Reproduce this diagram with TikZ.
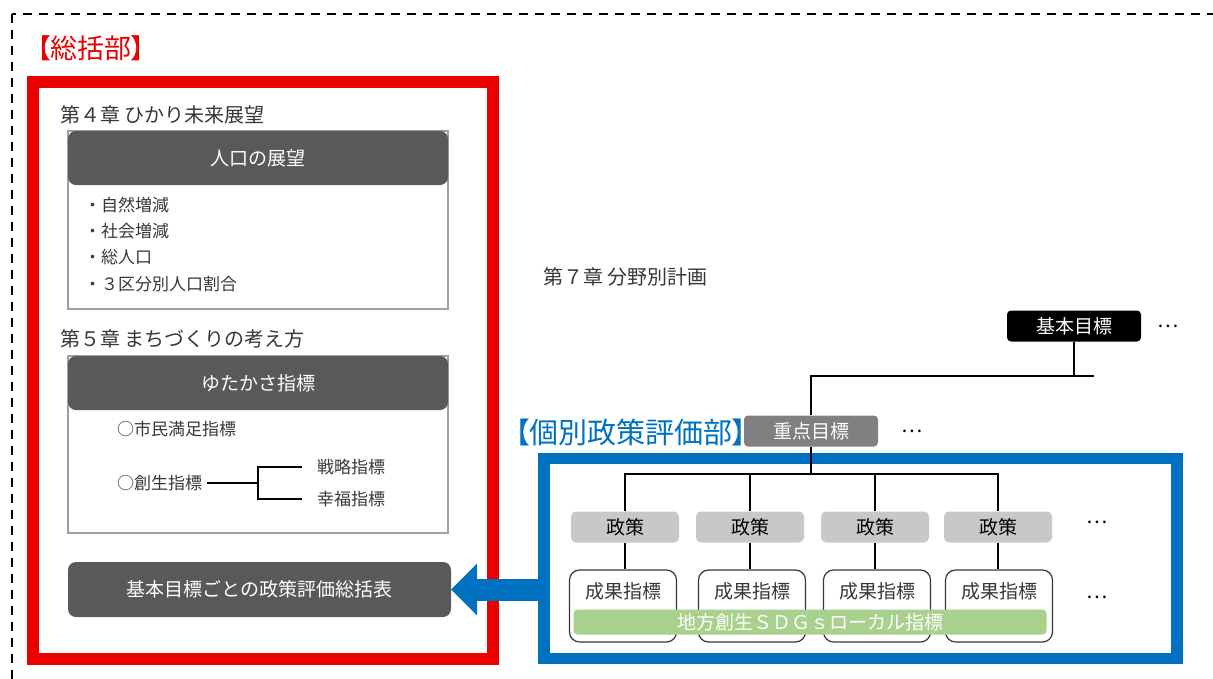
\documentclass[tikz,border=0pt]{standalone}
\usepackage{fontspec}
\setmainfont{Noto Sans CJK JP}
\newfontfamily\jpprop[RawFeature=+palt]{Noto Sans CJK JP}
\definecolor{sumred}{RGB}{235, 0, 0}
\definecolor{evalblue}{RGB}{0, 112, 192}
\definecolor{boxdark}{RGB}{89, 89, 89}
\definecolor{boxmid}{RGB}{128, 128, 128}
\definecolor{boxlight}{RGB}{200, 200, 200}
\definecolor{sdggreen}{RGB}{169, 209, 142}
\definecolor{textgray}{RGB}{55, 55, 55}
\usetikzlibrary{positioning, arrows.meta}

\begin{document}
\begin{tikzpicture}[x=1pt, y=-1pt,
  heading/.style={anchor=west, inner sep=0pt, font=\fontsize{20}{22}\selectfont, text=textgray},
  headbox/.style={fill=boxdark, rounded corners=8pt, text=white, inner sep=0pt, outer sep=0pt, font=\fontsize{19}{21}\selectfont},
  panel/.style={draw=gray!75, line width=2pt, inner sep=0pt, outer sep=0pt},
  item/.style={anchor=west, inner sep=0pt, font=\fontsize{17}{19}\selectfont, text=textgray},
  policy/.style={fill=boxlight, rounded corners=5pt, minimum width=108pt, minimum height=31pt, inner sep=0pt, font=\fontsize{19}{21}\selectfont},
  outcome/.style={draw=textgray, line width=1.2pt, rounded corners=10pt, minimum width=107pt, minimum height=72pt, inner sep=0pt},
  outtext/.style={inner sep=0pt, font=\fontsize{19}{21}\selectfont, text=textgray},
  more/.style={inner sep=0pt, font=\fontsize{20}{22}\selectfont},
  link/.style={line width=2.5pt},
  bracket/.style={line width=2pt}]

  \useasboundingbox (0,0) rectangle (1213,678);
  \clip (0,0) rectangle (1213,678);

  % Outer frame
  \draw[line width=2pt, dash pattern=on 9pt off 7pt] (12,14) rectangle (1240,700);

  % Summary part
  \node[text=sumred, font=\jpprop\fontsize{27}{30}\selectfont] (sumtitle) at (91,48) {【総括部】};
  \node[draw=sumred, line width=12pt, inner sep=0pt, outer sep=0pt, minimum width=460.5pt, minimum height=576.5pt, anchor=north west] (sumframe) at (32.5,82) {};

  % Chapter 4
  \node[heading] (ch4) at (60,115) {第４章 ひかり未来展望};
  \node[panel, anchor=north west, minimum width=380pt, minimum height=178pt] (popbody) at (68,131) {};
  \node[headbox, anchor=north west, minimum width=380pt, minimum height=54pt] (pophead) at (68,131) {人口の展望};
  \node[item] (pop1) at (84,205) {・自然増減};
  \node[item] (pop2) at (84,231) {・社会増減};
  \node[item] (pop3) at (84,257) {・総人口};
  \node[item] (pop4) at (84,284) {・３区分別人口割合};

  % Chapter 5
  \node[heading] (ch5) at (60,339) {第５章 まちづくりの考え方};
  \node[panel, anchor=north west, minimum width=380pt, minimum height=177pt] (richbody) at (68,356) {};
  \node[headbox, anchor=north west, minimum width=380pt, minimum height=54pt] (richhead) at (68,356) {ゆたかさ指標};
  \node[item] (citizen) at (117,429) {○市民満足指標};
  \node[item] (create) at (117,483) {○創生指標};
  \node[item] (strat) at (317,467) {戦略指標};
  \node[item] (happy) at (317,499) {幸福指標};
  \coordinate (fork) at (258,483);
  \draw[bracket] ([xshift=5pt]create.east) -- (fork);
  \draw[bracket] ([xshift=-15pt]strat.west) -| (fork) |- ([xshift=-15pt]happy.west);

  % Summary table
  \node[headbox, minimum width=383pt, minimum height=55pt] (summary) at (259.5,589.5) {基本目標ごとの政策評価総括表};

  % Chapter 7
  \node[heading] (ch7) at (543,277) {第７章 分野別計画};
  \node[fill=black, rounded corners=4pt, minimum width=134pt, minimum height=31pt, inner sep=0pt, text=white, font=\fontsize{19}{21}\selectfont] (goal) at (1074,326) {基本目標};
  \node[more, right=16pt of goal] (goaldots) {…};
  \node[fill=boxmid, rounded corners=4pt, minimum width=134pt, minimum height=31pt, inner sep=0pt, text=white, font=\fontsize{19}{21}\selectfont] (focus) at (811,431) {重点目標};
  \node[more, right=23pt of focus] (focusdots) {…};
  \coordinate (goaljoin) at (1094,376);
  \draw[link] (goal.south) -- (goal.south |- goaljoin);
  \draw[link] (goaljoin) -| (focus.north);

  % Individual policy evaluation part
  \node[text=evalblue, font=\jpprop\fontsize{29}{32}\selectfont] (evaltitle) at (631,432) {【個別政策評価部】};
  \node[draw=evalblue, line width=11.5pt, inner sep=0pt, outer sep=0pt, minimum width=633pt, minimum height=200pt, anchor=north west] (evalframe) at (544,458.5) {};

  \node[policy] (pol1) at (625,527) {政策};
  \node[policy] (pol2) at (750,527) {政策};
  \node[policy] (pol3) at (875,527) {政策};
  \node[policy] (pol4) at (998,527) {政策};
  \node[more] (poldots) at (1097,522) {…};

  \coordinate (focusjoin) at (811,474);
  \draw[link] (focus.south) -- (focusjoin);
  \draw[link] (pol1.north) -- (pol1.north |- focusjoin) -- (pol4.north |- focusjoin) -- (pol4.north);
  \draw[link] (pol2.north) -- (pol2.north |- focusjoin);
  \draw[link] (pol3.north) -- (pol3.north |- focusjoin);

  \node[outcome] (out1) at (623,606) {};
  \node[outcome] (out2) at (752,606) {};
  \node[outcome] (out3) at (877,606) {};
  \node[outcome] (out4) at (999,606) {};
  \node[outtext] (outtext1) at (623,591) {成果指標};
  \node[outtext] (outtext2) at (752,591) {成果指標};
  \node[outtext] (outtext3) at (877,591) {成果指標};
  \node[outtext] (outtext4) at (999,591) {成果指標};
  \node[more] (outdots) at (1097,597) {…};

  \draw[link] (pol1.south) -- (pol1.south |- out1.north);
  \draw[link] (pol2.south) -- (pol2.south |- out2.north);
  \draw[link] (pol3.south) -- (pol3.south |- out3.north);
  \draw[link] (pol4.south) -- (pol4.south |- out4.north);

  % Local SDGs bar
  \node[fill=sdggreen, rounded corners=4pt, minimum width=473pt, minimum height=25pt, inner sep=0pt, text=white, font=\fontsize{19}{21}\selectfont] (sdg) at (810,622) {地方創生ＳＤＧｓローカル指標};

  % Feedback arrow
  \draw[evalblue, line width=22pt, -{Triangle[length=26pt, width=50pt]}] (evalframe.west |- summary.east) -- (summary.east);
\end{tikzpicture}
\end{document}
